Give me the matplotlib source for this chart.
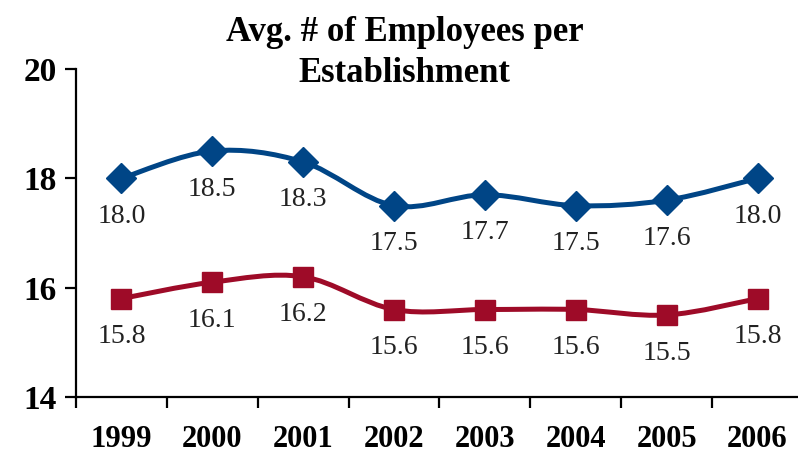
import matplotlib

matplotlib.use("Agg")
import matplotlib.pyplot as plt
import numpy as np
from matplotlib.path import Path
from matplotlib.patches import PathPatch

years = ["1999", "2000", "2001", "2002", "2003", "2004", "2005", "2006"]
blue_vals = [18.0, 18.5, 18.3, 17.5, 17.7, 17.5, 17.6, 18.0]
red_vals = [15.8, 16.1, 16.2, 15.6, 15.6, 15.6, 15.5, 15.8]

C_BLUE = "#004586"
C_RED = "#9E0B28"
SERIF = ["Liberation Serif", "DejaVu Serif"]

fig = plt.figure(figsize=(7.98, 4.53), dpi=100)
ax = fig.add_axes([76 / 798, 1 - 397 / 453, (803 - 76) / 798, (397 - 69) / 453])
ax.set_xlim(0, len(years))
ax.set_ylim(14, 20)


def smooth_path(xs, ys):
    # Excel-style smoothed line: Catmull-Rom through the points as cubic Beziers
    pts = np.column_stack([xs, ys])
    n = len(pts)
    verts = [pts[0]]
    codes = [Path.MOVETO]
    for i in range(n - 1):
        p0 = pts[i - 1] if i > 0 else pts[i]
        p1 = pts[i]
        p2 = pts[i + 1]
        p3 = pts[i + 2] if i + 2 < n else pts[i + 1]
        c1 = p1 + (p2 - p0) / 6
        c2 = p2 - (p3 - p1) / 6
        verts += [c1, c2, p2]
        codes += [Path.CURVE4] * 3
    return Path(verts, codes)


xs = np.arange(len(years)) + 0.5
for vals, color, marker, ms in [(blue_vals, C_BLUE, "D", 15), (red_vals, C_RED, "s", 14)]:
    ax.add_patch(PathPatch(smooth_path(xs, vals), facecolor="none", edgecolor=color,
                           lw=3.6, capstyle="round", joinstyle="round", zorder=2))
    ax.plot(xs, vals, ls="none", marker=marker, ms=ms, color=color, zorder=3)
    for x, v in zip(xs, vals):
        ax.annotate(f"{v:.1f}", (x, v), xytext=(0, -38), textcoords="offset pixels",
                    ha="center", va="center", fontsize=20, family=SERIF, color="#222222")

for s in ["top", "right"]:
    ax.spines[s].set_visible(False)
for s in ["left", "bottom"]:
    ax.spines[s].set_linewidth(1.6)

ax.set_yticks([14, 16, 18, 20])
ax.set_yticklabels(["14", "16", "18", "20"], fontsize=24, fontweight="bold", family=SERIF)
ax.tick_params(axis="y", length=8, width=1.6, pad=6)

ax.set_xticks(np.arange(len(years) + 1))
ax.set_xticklabels([])
ax.set_xticks(xs, minor=True)
ax.set_xticklabels(years, minor=True, fontsize=22, fontweight="bold", family=SERIF)
ax.tick_params(axis="x", which="major", length=8, width=1.6)
ax.tick_params(axis="x", which="minor", length=0, pad=20)

fig.text(0.507, 0.883, "Avg. # of Employees per\nEstablishment", ha="center", va="center",
         fontsize=25, fontweight="bold", family=SERIF, linespacing=1.3)

fig.savefig("out.png", dpi=100, facecolor="white")
